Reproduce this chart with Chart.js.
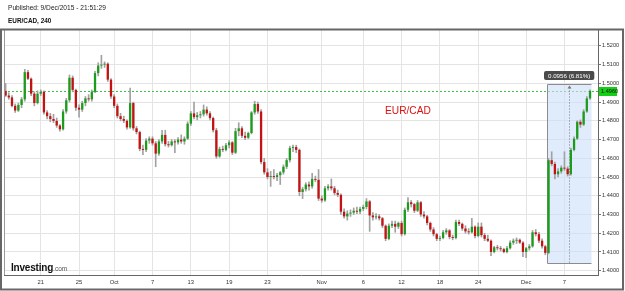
<!DOCTYPE html>
<html><head><meta charset="utf-8">
<script src="https://cdn.jsdelivr.net/npm/chart.js@4/dist/chart.umd.min.js"></script>
<style>
html,body{margin:0;padding:0;background:#fff;width:625px;height:291px;overflow:hidden;font-family:Arial,"Liberation Sans",sans-serif}
#wrap{position:relative;width:625px;height:291px}
canvas{position:absolute;left:0;top:0}
.t{position:absolute;white-space:nowrap;line-height:1}
</style></head>
<body><div id="wrap">
<canvas id="c" width="625" height="291"></canvas>
<div class="t" style="left:8px;top:5px;font-size:6.6px;color:#222">Published: 9/Dec/2015 - 21:51:29</div>
<div class="t" style="left:8px;top:18px;font-size:6.4px;font-weight:bold;color:#111">EUR/CAD, 240</div>
<div class="t" style="left:385px;top:106px;font-size:10.2px;color:#e01010">EUR/CAD</div>
<div class="t" style="left:11px;top:263px;font-size:10px;font-weight:bold;color:#111;letter-spacing:-0.2px">Investing<span style="font-size:6.5px;font-weight:normal;color:#555;letter-spacing:0">.com</span></div>
</div>
<script>
const tickIndex = [11,23,34,46,58,70,82,99,112,124,136,148,163,175];
const tickText = ['21','25','Oct','7','13','19','23','Nov','6','12','18','24','Dec','7'];
const categoryCount = 186;

const opens = [1.4960,1.4935,1.4925,1.4880,1.4855,1.4885,1.4915,1.5060,1.5025,1.4945,1.4895,1.4945,1.4955,1.4845,1.4825,1.4810,1.4800,1.4775,1.4755,1.4850,1.4910,1.5030,1.4965,1.4870,1.4860,1.4895,1.4920,1.4915,1.4955,1.5055,1.5095,1.5100,1.5105,1.5020,1.4930,1.4880,1.4825,1.4810,1.4800,1.4765,1.4895,1.4760,1.4740,1.4650,1.4645,1.4695,1.4705,1.4680,1.4625,1.4690,1.4725,1.4675,1.4670,1.4690,1.4685,1.4700,1.4690,1.4705,1.4785,1.4840,1.4820,1.4830,1.4835,1.4860,1.4840,1.4815,1.4750,1.4610,1.4650,1.4645,1.4670,1.4685,1.4630,1.4745,1.4760,1.4720,1.4710,1.4735,1.4845,1.4890,1.4850,1.4580,1.4525,1.4500,1.4505,1.4500,1.4510,1.4525,1.4555,1.4590,1.4655,1.4660,1.4645,1.4420,1.4435,1.4460,1.4450,1.4490,1.4485,1.4385,1.4375,1.4440,1.4450,1.4440,1.4415,1.4405,1.4315,1.4290,1.4305,1.4310,1.4320,1.4315,1.4330,1.4340,1.4370,1.4295,1.4285,1.4290,1.4280,1.4240,1.4170,1.4240,1.4250,1.4235,1.4255,1.4195,1.4325,1.4365,1.4355,1.4320,1.4365,1.4300,1.4290,1.4255,1.4220,1.4195,1.4170,1.4175,1.4205,1.4215,1.4180,1.4175,1.4260,1.4250,1.4225,1.4210,1.4205,1.4235,1.4185,1.4235,1.4190,1.4170,1.4160,1.4100,1.4125,1.4120,1.4115,1.4100,1.4120,1.4150,1.4160,1.4165,1.4150,1.4100,1.4120,1.4130,1.4205,1.4195,1.4160,1.4130,1.4095,1.4590,1.4570,1.4515,1.4530,1.4550,1.4545,1.4515,1.4645,1.4705,1.4795,1.4780,1.4850,1.4920];
const highs = [1.5000,1.4950,1.4935,1.4890,1.4895,1.4925,1.5075,1.5070,1.5030,1.4955,1.4960,1.4965,1.4960,1.4855,1.4840,1.4835,1.4815,1.4780,1.4860,1.4920,1.5045,1.5040,1.4970,1.4885,1.4905,1.4930,1.4940,1.4965,1.5065,1.5110,1.5150,1.5115,1.5110,1.5025,1.4940,1.4890,1.4840,1.4825,1.4805,1.4975,1.4900,1.4770,1.4745,1.4670,1.4705,1.4715,1.4715,1.4690,1.4700,1.4750,1.4750,1.4690,1.4700,1.4700,1.4710,1.4725,1.4715,1.4795,1.4850,1.4900,1.4845,1.4850,1.4885,1.4875,1.4850,1.4820,1.4760,1.4660,1.4665,1.4680,1.4695,1.4690,1.4760,1.4790,1.4770,1.4740,1.4740,1.4850,1.4905,1.4900,1.4860,1.4600,1.4545,1.4530,1.4540,1.4520,1.4530,1.4565,1.4600,1.4665,1.4670,1.4670,1.4650,1.4445,1.4470,1.4475,1.4520,1.4505,1.4540,1.4400,1.4450,1.4460,1.4490,1.4450,1.4430,1.4410,1.4330,1.4320,1.4325,1.4335,1.4340,1.4340,1.4350,1.4385,1.4375,1.4310,1.4305,1.4300,1.4285,1.4245,1.4250,1.4265,1.4265,1.4260,1.4265,1.4335,1.4390,1.4375,1.4360,1.4375,1.4370,1.4315,1.4295,1.4260,1.4230,1.4200,1.4185,1.4215,1.4225,1.4220,1.4190,1.4270,1.4270,1.4255,1.4240,1.4225,1.4280,1.4240,1.4255,1.4255,1.4200,1.4190,1.4165,1.4130,1.4135,1.4130,1.4120,1.4130,1.4160,1.4170,1.4175,1.4170,1.4155,1.4125,1.4140,1.4215,1.4220,1.4205,1.4170,1.4135,1.4600,1.4635,1.4580,1.4545,1.4560,1.4635,1.4555,1.4655,1.4715,1.4800,1.4805,1.4860,1.4930,1.4965];
const lows = [1.4930,1.4915,1.4875,1.4845,1.4850,1.4870,1.4905,1.5020,1.4935,1.4880,1.4890,1.4935,1.4835,1.4810,1.4795,1.4790,1.4765,1.4745,1.4750,1.4840,1.4900,1.4955,1.4855,1.4820,1.4850,1.4880,1.4905,1.4905,1.4950,1.5040,1.5080,1.5085,1.5010,1.4920,1.4870,1.4815,1.4800,1.4790,1.4755,1.4760,1.4750,1.4730,1.4640,1.4620,1.4635,1.4680,1.4670,1.4555,1.4615,1.4680,1.4665,1.4660,1.4665,1.4630,1.4675,1.4680,1.4675,1.4700,1.4775,1.4810,1.4805,1.4815,1.4825,1.4830,1.4805,1.4740,1.4600,1.4605,1.4635,1.4640,1.4655,1.4620,1.4625,1.4720,1.4710,1.4700,1.4705,1.4730,1.4835,1.4840,1.4570,1.4515,1.4490,1.4450,1.4490,1.4480,1.4460,1.4515,1.4545,1.4580,1.4635,1.4630,1.4400,1.4385,1.4425,1.4430,1.4440,1.4475,1.4375,1.4365,1.4370,1.4430,1.4430,1.4405,1.4395,1.4300,1.4280,1.4270,1.4290,1.4300,1.4305,1.4305,1.4320,1.4330,1.4210,1.4270,1.4275,1.4270,1.4230,1.4160,1.4165,1.4230,1.4205,1.4225,1.4185,1.4190,1.4315,1.4340,1.4310,1.4315,1.4290,1.4280,1.4245,1.4210,1.4185,1.4160,1.4160,1.4170,1.4195,1.4170,1.4165,1.4170,1.4240,1.4215,1.4200,1.4195,1.4200,1.4175,1.4180,1.4180,1.4160,1.4155,1.4080,1.4095,1.4110,1.4105,1.4095,1.4095,1.4115,1.4140,1.4145,1.4145,1.4075,1.4070,1.4110,1.4125,1.4185,1.4150,1.4120,1.4085,1.4090,1.4560,1.4490,1.4500,1.4520,1.4535,1.4505,1.4510,1.4640,1.4700,1.4765,1.4775,1.4845,1.4915];
const closes = [1.4935,1.4925,1.4880,1.4855,1.4885,1.4915,1.5060,1.5025,1.4945,1.4895,1.4945,1.4955,1.4845,1.4825,1.4810,1.4800,1.4775,1.4755,1.4850,1.4910,1.5030,1.4965,1.4870,1.4860,1.4895,1.4920,1.4915,1.4955,1.5055,1.5095,1.5100,1.5105,1.5020,1.4930,1.4880,1.4825,1.4810,1.4800,1.4765,1.4895,1.4760,1.4740,1.4650,1.4645,1.4695,1.4705,1.4680,1.4625,1.4690,1.4725,1.4675,1.4670,1.4690,1.4685,1.4700,1.4690,1.4705,1.4785,1.4840,1.4820,1.4830,1.4835,1.4860,1.4840,1.4815,1.4750,1.4610,1.4650,1.4645,1.4670,1.4685,1.4630,1.4745,1.4760,1.4720,1.4710,1.4735,1.4845,1.4890,1.4850,1.4580,1.4525,1.4500,1.4505,1.4500,1.4510,1.4525,1.4555,1.4590,1.4655,1.4660,1.4645,1.4420,1.4435,1.4460,1.4450,1.4490,1.4485,1.4385,1.4375,1.4440,1.4450,1.4440,1.4415,1.4405,1.4315,1.4290,1.4305,1.4310,1.4320,1.4315,1.4330,1.4340,1.4370,1.4295,1.4285,1.4290,1.4280,1.4240,1.4170,1.4240,1.4250,1.4235,1.4255,1.4195,1.4325,1.4365,1.4355,1.4320,1.4365,1.4300,1.4290,1.4255,1.4220,1.4195,1.4170,1.4175,1.4205,1.4215,1.4180,1.4175,1.4260,1.4250,1.4225,1.4210,1.4205,1.4235,1.4185,1.4235,1.4190,1.4170,1.4160,1.4100,1.4125,1.4120,1.4115,1.4100,1.4120,1.4150,1.4160,1.4165,1.4150,1.4100,1.4120,1.4130,1.4205,1.4195,1.4160,1.4130,1.4095,1.4590,1.4570,1.4515,1.4530,1.4550,1.4545,1.4515,1.4645,1.4705,1.4795,1.4780,1.4850,1.4920,1.4960];

const yTickValues = [1.40,1.41,1.42,1.43,1.44,1.45,1.46,1.47,1.48,1.49,1.50,1.51,1.52];
const lastPrice = 1.4960;
const measureLow = 1.4040, measureHigh = 1.4996;
const measureText = '0.0956 (6.81%)';
const measureStart = 169.5, measureEnd = 183.3, measureMid = 176.4;

const xLabels = Array.from({length: categoryCount}, (_, i) => {
  const k = tickIndex.indexOf(i); return k >= 0 ? tickText[k] : '';
});
const tickSet = new Set(tickIndex);
const wicks = lows.map((l, i) => [l, highs[i]]);
const bodies = opens.map((o, i) => [Math.min(o, closes[i]), Math.max(o, closes[i])]);
const bodyColors = opens.map((o, i) => closes[i] >= o ? '#1c9c1c' : '#c41212');

const overlay = {
  id: 'overlay',
  beforeDatasetsDraw(chart) {
    const {ctx, chartArea: a, scales: {x, y}} = chart;
    ctx.save();
    // last price dashed line
    const yp = Math.round(y.getPixelForValue(lastPrice)) + 0.5;
    ctx.strokeStyle = '#44c044'; ctx.lineWidth = 1; ctx.setLineDash([2, 2]);
    ctx.beginPath(); ctx.moveTo(a.left, yp); ctx.lineTo(a.right, yp); ctx.stroke();
    ctx.setLineDash([]);
    // measure rectangle
    const x0 = Math.round(x.getPixelForValue(measureStart)) + 0.5, x1 = Math.round(x.getPixelForValue(measureEnd)) + 0.5;
    const yT = Math.round(y.getPixelForValue(measureHigh)) + 0.5, yB = Math.round(y.getPixelForValue(measureLow)) + 0.5;
    ctx.fillStyle = 'rgba(204,224,250,0.6)';
    ctx.fillRect(x0, yT, x1 - x0, yB - yT);
    ctx.strokeStyle = '#8c8c8c';
    ctx.beginPath();
    ctx.moveTo(x0, yT); ctx.lineTo(x1, yT);
    ctx.moveTo(x0, yB); ctx.lineTo(x1, yB);
    ctx.moveTo(x0, yT); ctx.lineTo(x0, yB);
    ctx.stroke();
    const xm = Math.round(x.getPixelForValue(measureMid)) + 0.5;
    ctx.strokeStyle = '#777'; ctx.setLineDash([1, 2]);
    ctx.beginPath(); ctx.moveTo(xm, yT + 3); ctx.lineTo(xm, yB); ctx.stroke();
    ctx.setLineDash([]);
    ctx.fillStyle = '#777';
    ctx.beginPath(); ctx.moveTo(xm - 2, yT + 4); ctx.lineTo(xm + 2, yT + 4); ctx.lineTo(xm, yT + 1); ctx.closePath(); ctx.fill();
    ctx.restore();
  },
  afterDraw(chart) {
    const {ctx, chartArea: a, scales: {x, y}} = chart;
    ctx.save();
    // frames
    ctx.strokeStyle = '#9a9a9a'; ctx.lineWidth = 1;
    ctx.beginPath(); ctx.moveTo(a.left + 0.5, a.top); ctx.lineTo(a.left + 0.5, a.bottom); ctx.stroke();
    ctx.strokeStyle = '#666'; ctx.lineWidth = 2;
    ctx.strokeRect(1, 29.5, 622, 260);
    // last price label
    const yp = y.getPixelForValue(lastPrice);
    ctx.fillStyle = '#12d012';
    ctx.fillRect(a.right + 1, Math.round(yp) - 4, 18, 9);
    ctx.fillStyle = '#111'; ctx.font = '5.6px Arial, "Liberation Sans", sans-serif';
    ctx.textBaseline = 'middle'; ctx.textAlign = 'left';
    ctx.fillText(lastPrice.toFixed(4), a.right + 3, Math.round(yp) + 0.5);
    // measure label
    const xm = x.getPixelForValue(measureMid);
    const yT = y.getPixelForValue(measureHigh);
    ctx.font = '6.2px Arial, "Liberation Sans", sans-serif';
    const w = ctx.measureText(measureText).width + 8;
    const bx = Math.round(xm - w / 2), by = Math.round(yT) - 13;
    ctx.fillStyle = '#4a4a4a';
    ctx.beginPath(); ctx.roundRect(bx, by, w, 9, 2); ctx.fill();
    ctx.fillStyle = '#fff'; ctx.textAlign = 'center';
    ctx.fillText(measureText, bx + w / 2, by + 4.8);
    ctx.restore();
  }
};

new Chart(document.getElementById('c'), {
  type: 'bar',
  data: {
    labels: xLabels,
    datasets: [
      {label: 'body', data: bodies, backgroundColor: bodyColors, borderWidth: 0, barPercentage: 0.72, categoryPercentage: 1, grouped: false, order: 0},
      {label: 'wick', data: wicks, backgroundColor: '#a2a2a2', barThickness: 1, grouped: false, order: 1}
    ]
  },
  options: {
    responsive: false, animation: false,
    plugins: {legend: {display: false}, tooltip: {enabled: false}},
    layout: {padding: {left: 4, top: 30, right: 3, bottom: 2}},
    scales: {
      x: {
        grid: {offset: false, drawTicks: false, color: c => tickSet.has(c.index) ? '#e4e4e4' : 'rgba(0,0,0,0)'},
        border: {color: '#666'},
        ticks: {autoSkip: false, maxRotation: 0, minRotation: 0, padding: 4, color: '#333', font: {size: 5.8, family: 'Arial, "Liberation Sans", sans-serif'}},
        afterFit: s => { s.height = 14; }
      },
      y: {
        position: 'right', min: 1.3977, max: 1.5285,
        afterBuildTicks: s => { s.ticks = yTickValues.map(v => ({value: v})); },
        grid: {color: '#e4e4e4', tickLength: 3, tickColor: '#777'},
        border: {color: '#666'},
        ticks: {padding: 1, color: '#333', font: {size: 5.6, family: 'Arial, "Liberation Sans", sans-serif'}, callback: v => Number(v).toFixed(4)},
        afterFit: s => { s.width = 24; }
      }
    }
  },
  plugins: [overlay]
});
</script>
</body></html>
